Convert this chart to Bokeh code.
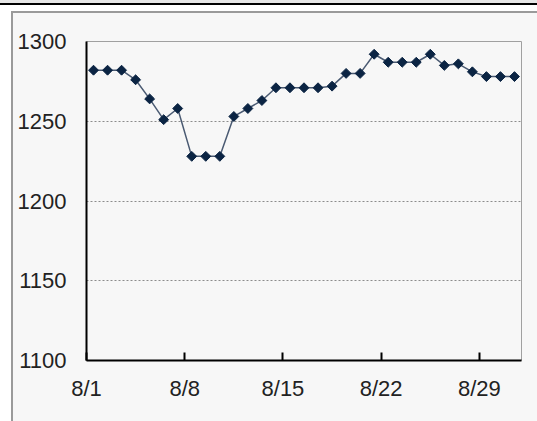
import math
from bokeh.plotting import figure
from bokeh.models import ColumnDataSource, FixedTicker, Range1d
from bokeh.transform import dodge
from bokeh.embed import file_html
from bokeh.resources import INLINE

# ---- data ----
days = list(range(1, 32))
prices = [1282, 1282, 1282, 1276, 1264, 1251, 1258, 1228, 1228, 1228,
          1253, 1258, 1263, 1271, 1271, 1271, 1271, 1272, 1280, 1280,
          1292, 1287, 1287, 1287, 1292, 1285, 1286, 1281, 1278, 1278, 1278]
tick_days = [1, 8, 15, 22, 29]
tick_labels = ["8/1", "8/8", "8/15", "8/22", "8/29"]
y_ticks = [1100, 1150, 1200, 1250, 1300]
grid_values = [1150, 1200, 1250]

src = ColumnDataSource(data=dict(day=days, price=prices))

FONT = "Liberation Sans"

p = figure(width=537, height=421, output_backend="svg", toolbar_location=None,
           x_range=Range1d(1, 32), y_range=Range1d(1100, 1300),
           min_border_left=86, min_border_right=16, min_border_top=41,
           min_border_bottom=61,
           background_fill_color="#f7f7f7", border_fill_alpha=0,
           outline_line_color="#a0a0a0", outline_line_width=1)

# decorative page panel behind the chart (CSS background of the figure element)
p.styles = {
    "background": (
        "linear-gradient(#e6e6e6,#e6e6e6) 0 0 / 100% 3px no-repeat, "
        "linear-gradient(#000000,#000000) 0 3px / 100% 2px no-repeat, "
        "linear-gradient(#9a9a9a,#9a9a9a) 11px 11px / 100% 2px no-repeat, "
        "linear-gradient(#9a9a9a,#9a9a9a) 11px 11px / 2px 100% no-repeat, "
        "linear-gradient(#f7f7f7,#f7f7f7) 11px 11px / 100% 100% no-repeat, "
        "#ffffff"
    )
}

# x axis
p.xaxis.ticker = FixedTicker(ticks=tick_days)
p.xaxis.major_label_overrides = dict(zip(tick_days, tick_labels))
p.xaxis.major_tick_in = 8
p.xaxis.major_tick_out = 0
p.xaxis.minor_tick_line_color = None
p.xaxis.major_tick_line_width = 2
p.xaxis.major_tick_line_color = "black"
p.xaxis.axis_line_width = 2
p.xaxis.axis_line_color = "black"
p.xaxis.major_label_standoff = 15

# y axis
p.yaxis.ticker = FixedTicker(ticks=y_ticks)
p.yaxis.major_tick_in = 0
p.yaxis.major_tick_out = 0
p.yaxis.minor_tick_line_color = None
p.yaxis.axis_line_width = 2
p.yaxis.axis_line_color = "black"
p.yaxis.major_label_standoff = 20

for ax in (p.xaxis, p.yaxis):
    ax.major_label_text_font = FONT
    ax.major_label_text_font_size = "22px"
    ax.major_label_text_color = "#222222"

# grid
p.xgrid.visible = False
p.ygrid.ticker = FixedTicker(ticks=grid_values)
p.ygrid.grid_line_color = "#8c8c8c"
p.ygrid.grid_line_dash = "2 2"
p.ygrid.grid_line_width = 1

# series
xs = dodge("day", 0.5)
p.line(x=xs, y="price", source=src, line_color="#4a5a72", line_width=1.5)
p.scatter(x=xs, y="price", source=src, marker="square", angle=math.pi / 4,
          size=7, fill_color="#0b2443", line_color="#0b2443", line_width=1)

open("out.html", "w").write(file_html(p, INLINE))
